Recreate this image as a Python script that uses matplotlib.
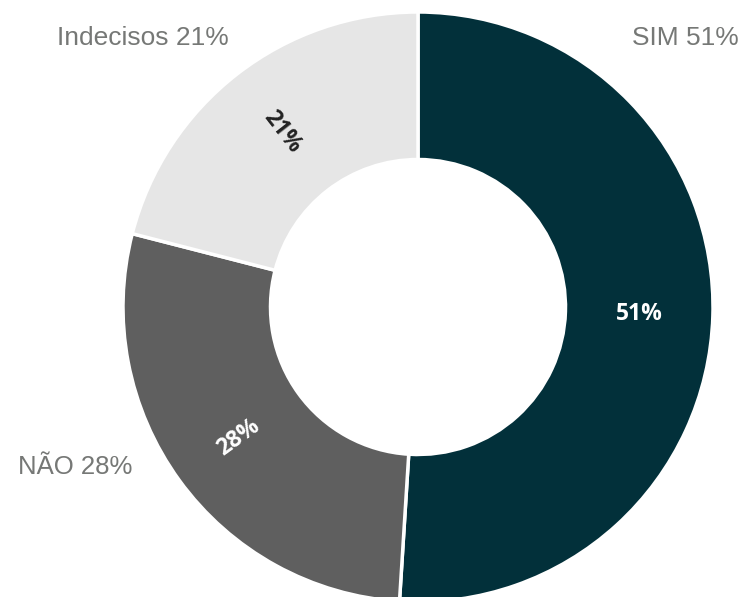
import matplotlib
matplotlib.use("Agg")
import matplotlib.pyplot as plt
import numpy as np

# data
categories = ["SIM", "NÃO", "Indecisos"]
values = [51, 28, 21]
colors = ["#02303a", "#5f5f5f", "#e6e6e6"]
inner_text_colors = ["white", "white", "#222222"]

outer_gray = "#767876"

fig = plt.figure(figsize=(7.44, 5.97), dpi=100)
W, H = 744.0, 597.0
cx, cy, R = 418.0, 307.0, 295.0
ax = fig.add_axes([(cx - R) / W, (H - cy - R) / H, 2 * R / W, 2 * R / H])

wedges, _ = ax.pie(values, colors=colors, startangle=90, counterclock=False,
                   radius=1.0,
                   wedgeprops=dict(width=0.5, edgecolor="white", linewidth=2.5))
ax.set_xlim(-1, 1)
ax.set_ylim(-1, 1)
ax.axis("off")

# inner percentage labels, rotated along the radial direction
for w, v, tc in zip(wedges, values, inner_text_colors):
    mid = (w.theta1 + w.theta2) / 2.0
    r = 0.75
    x = r * np.cos(np.radians(mid))
    y = r * np.sin(np.radians(mid))
    rot = (mid - 180) % 360
    if 90 < rot < 270:
        rot -= 180
    if abs(rot) < 10:
        rot = 0
    ax.text(x, y, "%d%%" % v, color=tc, fontsize=16.5, fontweight="bold",
            family=["Open Sans", "DejaVu Sans"], rotation=rot,
            rotation_mode="anchor", ha="center", va="center")

# outer labels
ax.text(0.908, 0.912, "SIM %d%%" % values[0], color=outer_gray, fontsize=19,
        family=["Liberation Sans", "DejaVu Sans"], ha="center", va="center",
        clip_on=False)
ax.text(-0.932, 0.912, "Indecisos %d%%" % values[2], color=outer_gray,
        fontsize=19, family=["Liberation Sans", "DejaVu Sans"], ha="center",
        va="center", clip_on=False)
ax.text(-1.163, -0.542, "NÃO %d%%" % values[1], color=outer_gray, fontsize=18.5,
        family=["Liberation Sans", "DejaVu Sans"], ha="center", va="center",
        clip_on=False)

fig.savefig("out.png", dpi=100, facecolor="white")
